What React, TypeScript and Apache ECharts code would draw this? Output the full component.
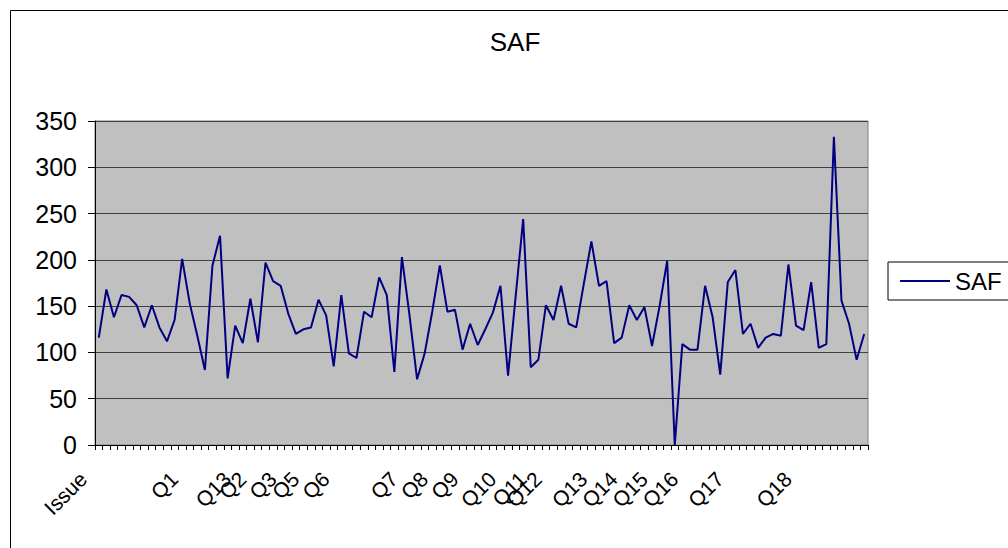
import React, { useEffect, useRef } from "react";
import * as echarts from "echarts";

// Series values, one per category (102 issues)
const safValues: number[] = [
  116, 168, 138, 162, 160, 151, 127, 151, 127, 112,
  135, 201, 153, 118, 81, 194, 226, 72, 129, 110,
  158, 111, 197, 177, 172, 142, 120, 125, 127, 157,
  140, 85, 162, 99, 94, 144, 138, 181, 162, 79,
  203, 140, 71, 99, 144, 194, 144, 146, 103, 131,
  108, 125, 143, 172, 75, 160, 244, 84, 92, 151,
  135, 172, 131, 127, 174, 220, 172, 177, 110, 116,
  151, 135, 149, 107, 150, 199, 0, 109, 103, 103,
  172, 138, 76, 176, 189, 120, 131, 105, 116, 120,
  118, 195, 129, 124, 176, 105, 109, 333, 156, 131,
  92, 120,
];

// Visible category labels and the category index each one sits on
const tickLabels: string[] = [
  "Issue", "Q1", "Q13", "Q2", "Q3", "Q5", "Q6", "Q7", "Q8", "Q9",
  "Q10", "Q11", "Q12", "Q13", "Q14", "Q15", "Q16", "Q17", "Q18",
];
const tickLabelIndex: number[] = [
  0, 12, 19, 21, 25, 28, 32, 41, 45, 49,
  54, 58, 60, 66, 70, 74, 78, 84, 93,
];

const yTicks = { min: 0, max: 350, interval: 50 };

const categories: string[] = safValues.map((_, i) => {
  const k = tickLabelIndex.indexOf(i);
  return k >= 0 ? tickLabels[k] : "";
});

const FONT = "'Liberation Sans', Arial, sans-serif";

export default function App() {
  const ref = useRef<HTMLDivElement>(null);
  useEffect(() => {
    if (!ref.current) return;
    const chart = echarts.init(ref.current, undefined, { renderer: "svg" });
    chart.setOption({
      animation: false,
      backgroundColor: "#ffffff",
      textStyle: { fontFamily: FONT },
      graphic: [
        {
          type: "rect",
          shape: { x: 10.5, y: 10.5, width: 1100, height: 600 },
          style: { fill: "none", stroke: "#000000", lineWidth: 1 },
          silent: true,
        },
        {
          type: "text",
          x: 515,
          y: 42,
          style: {
            text: "SAF",
            align: "center",
            verticalAlign: "middle",
            fontFamily: FONT,
            fontSize: 26,
            fill: "#000000",
          },
        },
      ],
      legend: {
        left: 888,
        top: 262,
        orient: "vertical",
        padding: [7, 60, 7, 12],
        backgroundColor: "#ffffff",
        borderColor: "#000000",
        borderWidth: 1,
        borderRadius: 0,
        icon: "rect",
        itemWidth: 50,
        itemHeight: 2,
        itemGap: 5,
        textStyle: { fontFamily: FONT, fontSize: 24, color: "#000000", padding: [0, 0, 0, 0] },
        data: ["SAF"],
      },
      grid: {
        left: 95,
        top: 121,
        right: 140,
        bottom: 103,
        show: true,
        backgroundColor: "#c0c0c0",
        borderColor: "#808080",
        borderWidth: 1,
      },
      xAxis: {
        type: "category",
        data: categories,
        boundaryGap: true,
        axisLine: { lineStyle: { color: "#000000", width: 1 } },
        axisTick: { show: true, interval: 0, length: 5, lineStyle: { color: "#000000" } },
        axisLabel: {
          interval: 0,
          rotate: 45,
          margin: 46,
          align: "right",
          verticalAlign: "bottom",
          lineHeight: 44,
          fontFamily: FONT,
          fontSize: 21,
          color: "#000000",
        },
        splitLine: { show: false },
      },
      yAxis: {
        type: "value",
        min: yTicks.min,
        max: yTicks.max,
        interval: yTicks.interval,
        axisLine: { show: true, lineStyle: { color: "#000000", width: 1 } },
        axisTick: { show: true, length: 7, lineStyle: { color: "#000000" } },
        axisLabel: { margin: 18, fontFamily: FONT, fontSize: 25, color: "#000000" },
        splitLine: { show: true, lineStyle: { color: "#404040", width: 1 } },
      },
      series: [
        {
          name: "SAF",
          type: "line",
          data: safValues,
          symbol: "none",
          lineStyle: { color: "#000080", width: 2 },
          itemStyle: { color: "#000080" },
        },
      ],
    });
    return () => chart.dispose();
  }, []);
  return (
    <div
      ref={ref}
      style={{ position: "absolute", left: 0, top: 0, width: 1008, height: 548 }}
    />
  );
}
